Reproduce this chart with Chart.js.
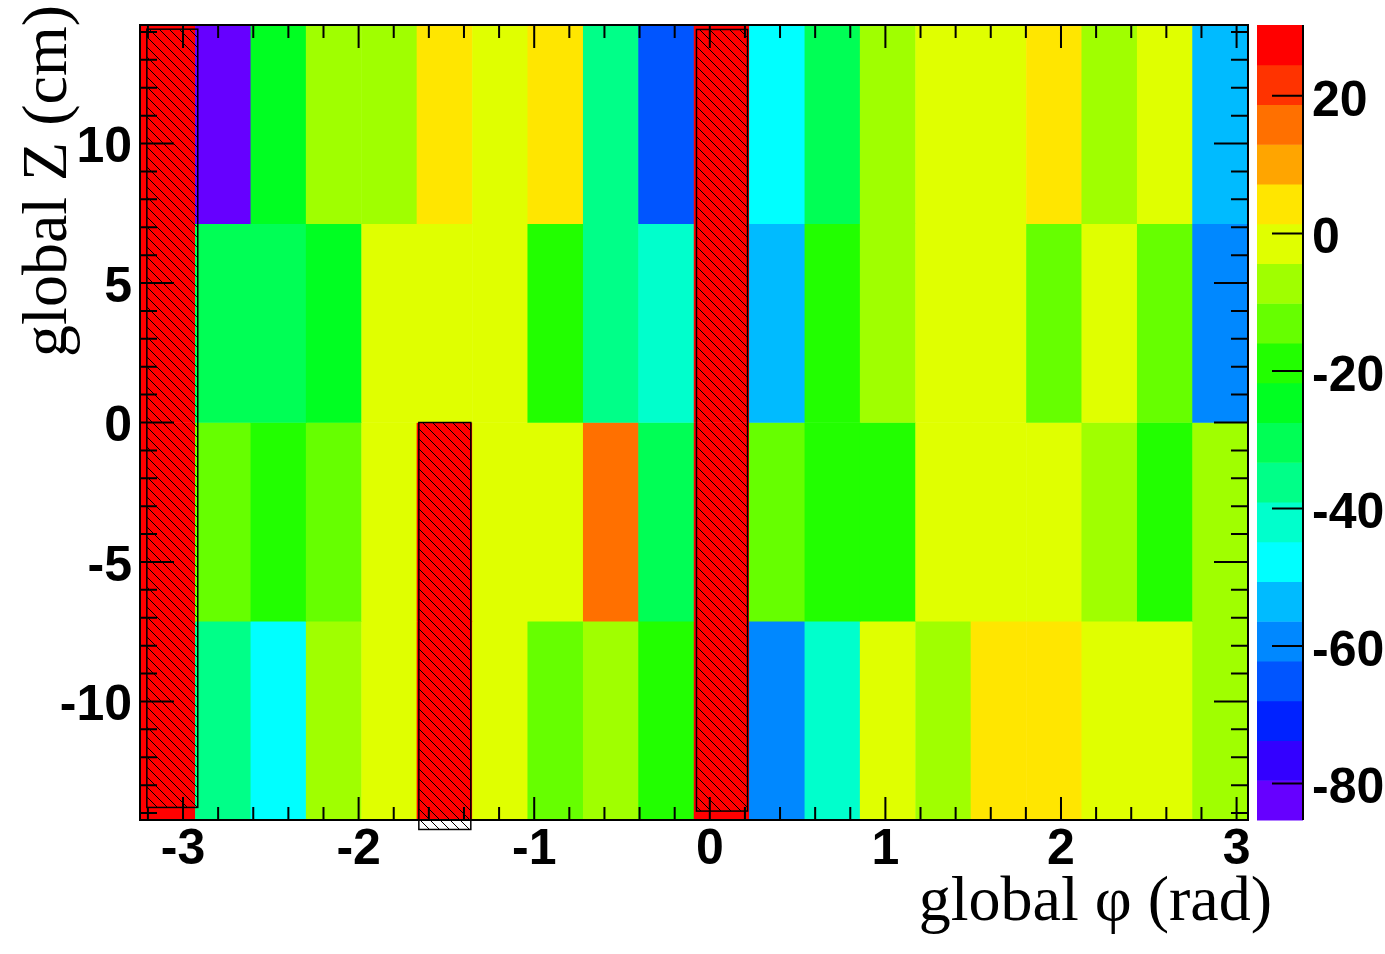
<!DOCTYPE html>
<html>
<head>
<meta charset="utf-8">
<title>global Z vs global phi</title>
<script src="https://cdn.jsdelivr.net/npm/chart.js@4.4.1/dist/chart.umd.min.js"></script>
<style>
  html, body { margin: 0; padding: 0; background: #fff; }
  canvas { display: block; }
</style>
</head>
<body>
<canvas id="map" width="1385" height="954"></canvas>
<script>
// --- DATA ---
// phi bin centres (rad), 20 bins
const phiCenters = [-3.087, -2.772, -2.456, -2.141, -1.825, -1.510, -1.194, -0.879, -0.563, -0.248,
                     0.068,  0.383,  0.699,  1.014,  1.330,  1.645,  1.961,  2.276,  2.592,  2.907];
// z bins (cm), top row first
const zBins = [[7.125, 14.25], [0, 7.125], [-7.125, 0], [-14.25, -7.125]];

// cell values per z row, null = dead module (red + hatched)
const rowTop    = [null, -82.4, -24.6, -7.3, -7.3, 4.3, -1.5, 4.3, -36.2, -65.1, null, -47.7, -30.4, -7.3, -1.5, -1.5, 4.3, -7.3, -1.5, -53.5];
const rowUpper  = [null, -33.0, -33.0, -24.6, -1.5, -1.5, -1.5, -18.8, -36.2, -42.0, null, -53.5, -18.8, -7.3, -1.5, -1.5, -13.1, -1.5, -13.1, -59.3];
const rowLower  = [null, -13.1, -18.8, -13.1, -1.5, null, -1.5, -1.5, 15.8, -30.4, null, -13.1, -18.8, -18.8, -1.5, -1.5, -1.5, -7.3, -18.8, -7.3];
const rowBottom = [null, -36.2, -47.7, -7.3, -1.5, null, -1.5, -13.1, -7.3, -18.8, null, -59.3, -42.0, -1.5, -7.3, 4.3, 4.3, -1.5, -1.5, -7.3];

// dead module boxes (hatched)
const deadPhiLo = [-3.206, -0.076, -1.657];
const deadPhiHi = [-2.916,  0.215, -1.361];
const deadZLo   = [-13.80, -13.93, -14.59];
const deadZHi   = [ 14.10,  14.09,   0.00];

// colour scale
const colMin = -85.3, colMax = 30.3;
const palette = ['#6600ff', '#3300ff', '#0022ff', '#0055ff', '#0088ff', '#00bbff', '#00ffff', '#00ffcc',
                 '#00ff88', '#00ff55', '#00ff22', '#22ff00', '#66ff00', '#a0ff00', '#e0ff00', '#ffe600',
                 '#ffa500', '#ff7000', '#ff3300', '#ff0000'];
const deadColor = '#ff0000';

// tick labels
const phiTicks = [-3, -2, -1, 0, 1, 2, 3];
const zTicks = [-10, -5, 0, 5, 10];
const colTicks = [-80, -60, -40, -20, 0, 20];

const phiMin = -3.245, phiMax = 3.065, zMin = -14.25, zMax = 14.25;

// --- HELPERS ---
function colorFor(v) {
    if (v === null) return deadColor;
    let b = Math.floor((v - colMin) / (colMax - colMin) * palette.length);
    b = Math.max(0, Math.min(palette.length - 1, b));
    return palette[b];
}

function makeHatch() {
    const s = 10;
    const p = document.createElement('canvas');
    p.width = s; p.height = s;
    const g = p.getContext('2d');
    g.strokeStyle = '#000';
    g.lineWidth = 1;
    g.beginPath();
    for (let k = -1; k <= 1; k++) {
        g.moveTo(0, k * s);
        g.lineTo(s, s + k * s);
    }
    g.stroke();
    return g.createPattern(p, 'repeat');
}
const hatch = makeHatch();

const tickFont = { family: '"Liberation Sans", Arial, sans-serif', size: 50, weight: 'bold' };
const titleFont = '64px "Liberation Serif", "Times New Roman", serif';

function noPad(s) {
    s.paddingTop = 0; s.paddingBottom = 0; s.paddingLeft = 0; s.paddingRight = 0;
}

// --- ROOT-LIKE DECORATION ---
const rootFrame = {
    id: 'rootFrame',
    afterDatasetsDraw(chart) {
        const { ctx, chartArea: a, scales: { x, y, c } } = chart;
        ctx.save();

        // dead modules
        for (let i = 0; i < deadPhiLo.length; i++) {
            const x0 = x.getPixelForValue(deadPhiLo[i]), x1 = x.getPixelForValue(deadPhiHi[i]);
            const y0 = y.getPixelForValue(deadZHi[i]), y1 = y.getPixelForValue(deadZLo[i]);
            ctx.fillStyle = hatch;
            ctx.fillRect(x0, y0, x1 - x0, y1 - y0);
            ctx.strokeStyle = '#000';
            ctx.lineWidth = 1.5;
            ctx.strokeRect(x0, y0, x1 - x0, y1 - y0);
        }

        // frame
        ctx.strokeStyle = '#000';
        ctx.lineWidth = 2;
        ctx.strokeRect(a.left, a.top, a.right - a.left, a.bottom - a.top);

        // ticks pointing inward
        ctx.lineWidth = 2;
        ctx.beginPath();
        for (let k = -16; k <= 15; k++) {
            const v = k * 0.2;
            const px = x.getPixelForValue(v);
            const len = (k % 5 === 0) ? 23 : 13;
            ctx.moveTo(px, a.bottom); ctx.lineTo(px, a.bottom - len);
            ctx.moveTo(px, a.top); ctx.lineTo(px, a.top + len);
        }
        for (let v = -14; v <= 14; v++) {
            const py = y.getPixelForValue(v);
            const len = (v % 5 === 0) ? 34 : 17;
            ctx.moveTo(a.left, py); ctx.lineTo(a.left + len, py);
            ctx.moveTo(a.right, py); ctx.lineTo(a.right - len, py);
        }
        ctx.stroke();

        // colour palette
        const pl = a.right + 9, pr = a.right + 55;
        const step = (colMax - colMin) / palette.length;
        palette.forEach((col, i) => {
            const yb = c.getPixelForValue(colMin + i * step);
            const yt = c.getPixelForValue(colMin + (i + 1) * step);
            ctx.fillStyle = col;
            ctx.fillRect(pl, yt, pr - pl, yb - yt + 0.5);
        });
        ctx.beginPath();
        ctx.moveTo(pr, c.top); ctx.lineTo(pr, c.bottom);
        colTicks.forEach(v => {
            const py = c.getPixelForValue(v);
            ctx.moveTo(pr, py); ctx.lineTo(pr - 31, py);
        });
        ctx.stroke();

        // axis titles
        ctx.fillStyle = '#000';
        ctx.font = titleFont;
        ctx.textAlign = 'right';
        ctx.textBaseline = 'alphabetic';
        ctx.fillText('global \u03c6 (rad)', a.right + 24, a.bottom + 100);

        ctx.translate(66, a.top - 20);
        ctx.rotate(-Math.PI / 2);
        ctx.fillText('global Z (cm)', 0, 0);

        ctx.restore();
    }
};

// --- CHART ---
const rows = [rowTop, rowUpper, rowLower, rowBottom];

new Chart(document.getElementById('map'), {
    type: 'bar',
    data: {
        datasets: rows.map((vals, r) => ({
            label: 'z row ' + r,
            data: phiCenters.map(p => ({ x: p, y: zBins[r] })),
            backgroundColor: vals.map(colorFor),
            borderWidth: 0,
            grouped: false,
            barPercentage: 1,
            categoryPercentage: 1
        }))
    },
    options: {
        responsive: false,
        animation: false,
        layout: { padding: { top: 25, left: 0, right: 0, bottom: 0 } },
        plugins: { legend: { display: false }, tooltip: { enabled: false } },
        scales: {
            x: {
                type: 'linear', position: 'bottom', min: phiMin, max: phiMax, offset: false,
                grid: { display: false, drawTicks: false, offset: false }, border: { display: false },
                afterBuildTicks: s => { s.ticks = phiTicks.map(v => ({ value: v })); },
                afterFit: s => { s.height = 134; noPad(s); },
                ticks: { font: tickFont, color: '#000', padding: 0, maxRotation: 0 }
            },
            y: {
                type: 'linear', position: 'left', min: zMin, max: zMax,
                grid: { display: false, drawTicks: false }, border: { display: false },
                afterBuildTicks: s => { s.ticks = zTicks.map(v => ({ value: v })); },
                afterFit: s => { s.width = 140; noPad(s); },
                ticks: { font: tickFont, color: '#000', padding: 8, labelOffset: 5 }
            },
            c: {
                type: 'linear', axis: 'y', position: 'right', min: colMin, max: colMax,
                grid: { display: false, drawTicks: false }, border: { display: false },
                afterBuildTicks: s => { s.ticks = colTicks.map(v => ({ value: v })); },
                afterFit: s => { s.width = 137; noPad(s); },
                ticks: { font: tickFont, color: '#000', padding: 64, labelOffset: 6 }
            }
        }
    },
    plugins: [rootFrame]
});
</script>
</body>
</html>
